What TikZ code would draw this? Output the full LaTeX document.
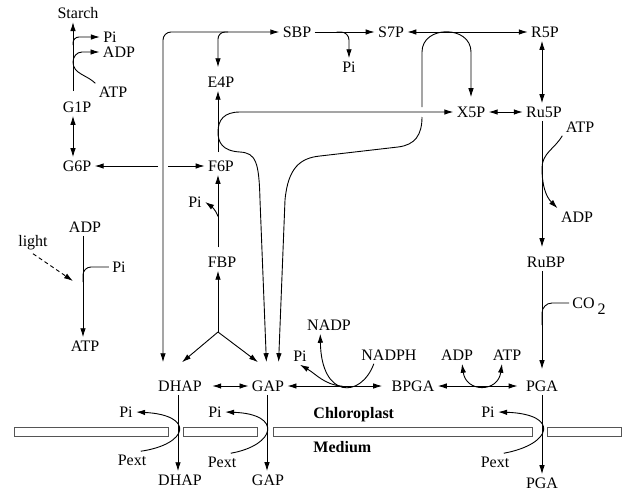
\documentclass[tikz,border=0pt]{standalone}
\usepackage{fontspec}
\setmainfont{Liberation Serif}
\usepackage{tikz}
\usetikzlibrary{arrows.meta,positioning,calc}
\definecolor{membgray}{HTML}{555555}

\begin{document}
\begin{tikzpicture}[x=1pt,y=-1pt,font=\fontsize{16}{19}\selectfont,line width=0.9pt,
    every node/.style={inner sep=3pt},
    arr/.style={-{Latex[length=9pt,width=5.5pt]}},
    darr/.style={{Latex[length=9pt,width=5.5pt]}-{Latex[length=9pt,width=5.5pt]}},
    memb/.style={draw=membgray,line width=0.8pt,fill=white}]
    \useasboundingbox (0,0) rectangle (624,491);
    % columns the vertical lines run in
    \coordinate (cS) at (73,0);
    \coordinate (cL) at (83,0);
    \coordinate (cV) at (163,0);
    \coordinate (cD) at (178,0);
    \coordinate (cF) at (218,0);
    \coordinate (cG) at (267,0);
    \coordinate (cG2) at (278,0);
    \coordinate (cR) at (542,0);
    \coordinate (lightend) at (73,281);
    \coordinate (yj) at (218,332);
    \coordinate (archT) at (422,107);
    \coordinate (archB) at (422,117);

    \node (starch) at (78,13) {Starch};
    \node (piS) at (110,37) {Pi};
    \node (adpS) at (119,52) {ADP};
    \node (atpS) at (113,92) {ATP};
    \node (g1p) at (77,107) {G1P};
    \node (g6p) at (77,166) {G6P};
    \node (f6p) at (221,166) {F6P};
    \node (e4p) at (221,82) {E4P};
    \node (sbp) at (297,32) {SBP};
    \node (s7p) at (391,32) {S7P};
    \node (piB) at (349,67) {Pi};
    \node (r5p) at (545,32) {R5P};
    \node (x5p) at (471,112) {X5P};
    \node (ru5p) at (544,112) {Ru5P};
    \node (atpR) at (580,127) {ATP};
    \node (adpR) at (577,217) {ADP};
    \node (rubp) at (546,262) {RuBP};
    \node (co2) [anchor=west] at (569,303) {CO\hspace{3pt}\raisebox{-6pt}[0pt][0pt]{2}};
    \node (fbp) at (222,262) {FBP};
    \node (piF) at (195,202) {Pi};
    \node (adpL) at (85,227) {ADP};
    \node (atpL) at (85,346) {ATP};
    \node (piL) at (119,267) {Pi};
    \node (light) at (33,243) {light};
    \node (nadp) at (329,325) {NADP};
    \node (piN) at (300,356) {Pi};
    \node (nadph) at (389,355) {NADPH};
    \node (adpM) at (457,355) {ADP};
    \node (atpM) at (507,355) {ATP};
    \node (dhap) at (180,386) {DHAP};
    \node (gap) at (268,386) {GAP};
    \node (bpga) at (413,386) {BPGA};
    \node (pga) at (542,386) {PGA};
    \node (piT1) at (126,412) {Pi};
    \node (piT2) at (215,412) {Pi};
    \node (piT3) at (488,412) {Pi};
    \node (chl) [anchor=west] at (310,415) {\textbf{Chloroplast}};
    \node (med) [anchor=west] at (310,447) {\textbf{Medium}};
    \node (pext1) at (132,460) {Pext};
    \node (pext2) at (222,462) {Pext};
    \node (pext3) at (495,462) {Pext};
    \node (dhapO) at (180,480) {DHAP};
    \node (gapO) at (268,480) {GAP};
    \node (pgaO) at (542,483) {PGA};

    % membrane
    \draw[memb] (14,427) rectangle (168,436);
    \draw[memb] (183,427) rectangle (257,436);
    \draw[memb] (273,427) rectangle (532,436);
    \draw[memb] (547,427) rectangle (621,436);

    % starch and hexoses
    \draw[arr,shorten <=7pt] (g1p.north -| cS) -- (starch.south -| cS);
    \draw[arr,rounded corners=6pt] ($(piS.west -| cS)+(0,8)$) |- (piS.west);
    \draw[arr] (atpS.north west) to[out=135,in=-90] ($(adpS.west -| cS)+(0,10)$) to[out=90,in=180] ($(adpS.west -| cS)+(9,0)$) -- (adpS.west);
    \draw[darr] (g1p.south -| cS) -- (g6p.north -| cS);
    \draw[arr] ($(g6p.east -| cV)+(-5,0)$) -- (g6p.east);
    \draw[arr] ($(g6p.east -| cV)+(5,0)$) -- (f6p.west);
    \draw[arr,shorten <=5pt] (f6p.north -| cF) -- (e4p.south -| cF);

    % aldolase loop to SBP
    \draw[darr,rounded corners=8pt,shorten <=15pt] (dhap.north -| cV) |- (sbp.west);
    \draw[arr,rounded corners=7pt,shorten >=6pt] ($(sbp.west -| cF)+(10,0)$) -| (e4p.north -| cF);
    \draw[arr] (sbp.east) -- (s7p.west);
    \draw[arr,rounded corners=8pt] ($(sbp.east)+(22,0)$) -| (piB.north);
    \draw[darr] (s7p.east) -- (r5p.west);

    % transketolase
    \draw[arr,shorten >=6pt] (archT) -- (422,52) .. controls (422,25) and (471,25) .. (471,52) -- (x5p.north);
    \draw[arr,shorten >=15pt] (archB) .. controls (422,135) and (415,145) .. (398,147) -- (320,156)
        .. controls (300,158) and (288,168) .. (285,200) -- (gap.north -| cG2);
    \draw[darr,shorten <=15pt] (gap.north -| cG) -- (260,200) .. controls (259,162) and (256,153) .. (240,152)
        .. controls (222,151) and (218,142) .. (218,132) .. controls (218,120) and (224,112) .. (240,112) -- (x5p.west);
    \draw[darr] (x5p.east) -- (ru5p.west);
    \draw[darr] (r5p.south -| cR) -- (ru5p.north -| cR);

    % Ru5P to PGA
    \draw[arr,shorten >=6pt] (ru5p.south -| cR) -- (rubp.north -| cR);
    \draw[arr] (atpR.south west) to[out=240,in=90] ($(cR)+(0,168)$) to[out=-90,in=135] (adpR.north west);
    \draw[arr,shorten >=8pt] (rubp.south -| cR) -- (pga.north -| cR);
    \draw[rounded corners=10pt] (co2.west) -| ($(cR)+(0,325)$);

    % PGA to triose phosphates
    \draw[darr,shorten >=5pt] (bpga.east) -- (pga.west);
    \draw[darr] (adpM.-60) .. controls +(4,29) and +(-4,29) .. (atpM.-120);
    \draw[darr,shorten >=6pt] (gap.east) -- (bpga.west);
    \draw[arr] (nadph.-150) .. controls +(-13,35) and +(1,65) .. (nadp.-135) coordinate[pos=0.5] (nbot);
    \draw[arr] (nbot) to[out=175,in=-30] (piN.south);
    \draw[darr,shorten <=7pt] (dhap.east) -- (gap.west);

    % FBP
    \draw[arr] (yj) -- (fbp.south -| cF);
    \draw[arr] (yj) -- ($(dhap.north)+(2,-15)$);
    \draw[arr] (yj) -- ($(gap.north)+(-10,-15)$);
    \draw[arr,shorten <=6pt] (fbp.north -| cF) -- (f6p.south -| cF) coordinate[pos=0.47] (fpi);
    \draw[arr] (fpi) to[out=110,in=-35] (piF.east);

    % photophosphorylation
    \draw[arr] (adpL.south -| cL) -- (atpL.north -| cL);
    \draw[rounded corners=8pt] (piL.west) -| ($(cL)+(0,282)$);
    \draw[arr,dash pattern=on 4pt off 3pt] (light.south) -- (lightend);

    % translocator
    \draw[arr] (dhap.south -| cD) -- (dhapO.north -| cD);
    \draw[arr] (pext1.45) .. controls +(48,-7) and +(59,3) .. (piT1.east);
    \draw[arr] (gap.south -| cG) -- (gapO.north -| cG);
    \draw[arr] (pext2.45) .. controls +(45,-8) and +(58,2) .. (piT2.east);
    \draw[arr] (pga.south -| cR) -- (pgaO.north -| cR);
    \draw[arr] (pext3.45) .. controls +(49,-9) and +(62,2) .. (piT3.east);
\end{tikzpicture}
\end{document}
